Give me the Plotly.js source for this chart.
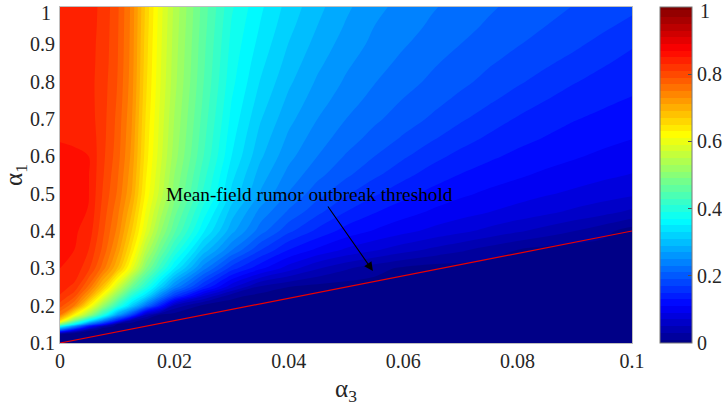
<!DOCTYPE html>
<html>
<head>
<meta charset="utf-8">
<script src="https://cdn.plot.ly/plotly-3.0.1.min.js"></script>
<style>html,body{margin:0;padding:0;background:#fff;}#chart{width:722px;height:406px;}</style>
</head>
<body>
<div id="chart"></div>
<script>
// alpha_3 grid (x)
var alpha3 = [0, 0.0025, 0.005, 0.0075, 0.01, 0.0125, 0.015, 0.0175, 0.02, 0.025,
              0.03, 0.035, 0.04, 0.045, 0.05, 0.055, 0.06, 0.065, 0.07, 0.075, 0.08, 0.085, 0.09, 0.095, 0.1];
// alpha_1 grid (y)
var alpha1 = [0.1, 0.12, 0.125, 0.13, 0.135, 0.14, 0.145, 0.15, 0.16, 0.175, 0.2, 0.225, 0.25, 0.3, 0.35,
              0.4, 0.45, 0.5, 0.55, 0.6, 0.65, 0.7, 0.75, 0.8, 0.85, 0.9, 0.95, 1.0];
// final rumor size, one row per alpha_1 value
var rumorSize = [
  [0,0,0,0,0,0,0,0,0,0, 0,0,0,0,0,0,0,0,0,0,0,0,0,0,0],
  [0,0,0,0,0,0,0,0,0,0, 0,0,0,0,0,0,0,0,0,0,0,0,0,0,0],
  [0.02,0,0,0,0,0,0,0,0,0, 0,0,0,0,0,0,0,0,0,0,0,0,0,0,0],
  [0.12,0.04,0,0,0,0,0,0,0,0, 0,0,0,0,0,0,0,0,0,0,0,0,0,0,0],
  [0.22,0.11,0.025,0,0,0,0,0,0,0, 0,0,0,0,0,0,0,0,0,0,0,0,0,0,0],
  [0.30,0.19,0.075,0.01,0,0,0,0,0,0, 0,0,0,0,0,0,0,0,0,0,0,0,0,0,0],
  [0.375,0.25,0.13,0.04,0,0,0,0,0,0, 0,0,0,0,0,0,0,0,0,0,0,0,0,0,0],
  [0.50,0.36,0.22,0.13,0.01,0,0,0,0,0, 0,0,0,0,0,0,0,0,0,0,0,0,0,0,0],
  [0.66,0.49,0.36,0.245,0.14,0.025,0,0,0,0, 0,0,0,0,0,0,0,0,0,0,0,0,0,0,0],
  [0.75,0.625,0.52,0.40,0.27,0.175,0.05,0.005,0,0, 0,0,0,0,0,0,0,0,0,0,0,0,0,0,0],
  [0.80,0.75,0.635,0.52,0.415,0.32,0.225,0.14,0.045,0.005, 0,0,0,0,0,0,0,0,0,0,0,0,0,0,0],
  [0.828,0.795,0.715,0.605,0.50,0.40,0.33,0.24,0.165,0.07, 0.015,0.003,0,0,0,0,0,0,0,0,0,0,0,0,0],
  [0.838,0.825,0.765,0.68,0.575,0.475,0.40,0.32,0.245,0.15, 0.075,0.025,0.01,0.003,0,0,0,0,0,0,0,0,0,0,0],
  [0.85,0.845,0.815,0.76,0.69,0.60,0.495,0.42,0.35,0.24, 0.16,0.115,0.08,0.052,0.033,0.018,0.006,0,0,0,0,0,0,0,0],
  [0.853,0.85,0.83,0.785,0.725,0.645,0.55,0.475,0.41,0.305, 0.232,0.172,0.13,0.106,0.087,0.073,0.059,0.046,0.034,0.022,0.01,0.002,0,0,0],
  [0.855,0.853,0.842,0.795,0.745,0.672,0.59,0.515,0.455,0.355, 0.277,0.22,0.175,0.145,0.122,0.108,0.096,0.085,0.075,0.064,0.053,0.042,0.030,0.017,0],
  [0.856,0.855,0.849,0.802,0.757,0.692,0.608,0.54,0.478,0.382, 0.30,0.243,0.206,0.175,0.149,0.131,0.118,0.107,0.098,0.09,0.082,0.074,0.065,0.056,0.045],
  [0.856,0.855,0.851,0.808,0.768,0.71,0.625,0.562,0.50,0.408, 0.325,0.268,0.228,0.198,0.173,0.153,0.137,0.124,0.114,0.106,0.099,0.092,0.086,0.08,0.074],
  [0.855,0.854,0.851,0.812,0.774,0.718,0.633,0.57,0.51,0.42, 0.337,0.281,0.243,0.216,0.194,0.174,0.156,0.141,0.129,0.12,0.113,0.106,0.1,0.094,0.089],
  [0.853,0.852,0.85,0.815,0.78,0.725,0.64,0.578,0.52,0.432, 0.35,0.294,0.256,0.23,0.208,0.19,0.173,0.157,0.144,0.134,0.125,0.118,0.112,0.106,0.1],
  [0.849,0.848,0.845,0.817,0.783,0.729,0.644,0.582,0.525,0.438, 0.357,0.303,0.266,0.24,0.22,0.203,0.188,0.173,0.159,0.147,0.137,0.129,0.122,0.116,0.111],
  [0.846,0.845,0.84,0.818,0.785,0.733,0.648,0.585,0.529,0.443, 0.364,0.312,0.276,0.25,0.23,0.214,0.2,0.187,0.173,0.16,0.148,0.139,0.131,0.125,0.12],
  [0.844,0.844,0.838,0.819,0.788,0.737,0.652,0.589,0.533,0.448, 0.37,0.321,0.285,0.259,0.239,0.223,0.209,0.197,0.185,0.173,0.161,0.15,0.141,0.134,0.128],
  [0.843,0.843,0.837,0.82,0.79,0.74,0.655,0.592,0.537,0.452, 0.376,0.329,0.294,0.267,0.247,0.231,0.218,0.206,0.195,0.184,0.173,0.162,0.151,0.143,0.137],
  [0.842,0.842,0.837,0.822,0.792,0.742,0.658,0.594,0.539,0.455, 0.38,0.336,0.302,0.275,0.254,0.238,0.225,0.213,0.202,0.192,0.183,0.173,0.163,0.152,0.144],
  [0.841,0.841,0.837,0.823,0.793,0.743,0.66,0.596,0.541,0.457, 0.384,0.343,0.309,0.283,0.261,0.245,0.232,0.221,0.21,0.2,0.191,0.183,0.174,0.163,0.152],
  [0.841,0.841,0.838,0.824,0.794,0.744,0.663,0.598,0.543,0.46, 0.388,0.349,0.316,0.29,0.268,0.25,0.238,0.227,0.217,0.207,0.198,0.19,0.182,0.174,0.164],
  [0.84,0.84,0.838,0.825,0.795,0.745,0.665,0.60,0.545,0.462, 0.393,0.354,0.322,0.296,0.274,0.256,0.243,0.232,0.223,0.213,0.204,0.196,0.189,0.182,0.175]
];
// mean-field threshold line end points
var thresholdA3 = [0, 0.1];
var thresholdA1 = [0.1, 0.4];
var xTicks = [0, 0.02, 0.04, 0.06, 0.08, 0.1];
var yTicks = [0.1, 0.2, 0.3, 0.4, 0.5, 0.6, 0.7, 0.8, 0.9, 1];
var cbTicks = [0, 0.2, 0.4, 0.6, 0.8, 1];
var annotationText = 'Mean-field rumor outbreak threshold';

var jet = [
  [0, 'rgb(0,0,135)'],
  [0.111, 'rgb(0,0,255)'],
  [0.365, 'rgb(0,255,255)'],
  [0.619, 'rgb(255,255,0)'],
  [0.873, 'rgb(255,0,0)'],
  [1, 'rgb(128,0,0)']
];
var FONT = 'Liberation Serif, Times New Roman, serif';
var TXT = '#262626';

// top labels ("1") are drawn as annotations so they are not clipped at the top edge
function labelText(v) { return v === 1 ? '' : String(v); }

var traces = [
  {
    type: 'contour',
    x: alpha3, y: alpha1, z: rumorSize,
    zmin: 0, zmax: 1, zauto: false,
    colorscale: jet,
    contours: {start: 0.01, end: 0.99, size: 0.02, coloring: 'fill', showlines: false},
    line: {width: 0, smoothing: 1},
    hoverinfo: 'skip',
    colorbar: {
      thickness: 32, thicknessmode: 'pixels',
      len: 1, lenmode: 'fraction',
      x: 1.049, xanchor: 'left', xpad: 0,
      y: 0.5, yanchor: 'middle', ypad: 0,
      outlinecolor: 'rgb(120,120,120)', outlinewidth: 1,
      tickmode: 'array', tickvals: cbTicks, ticktext: cbTicks.map(labelText),
      ticks: 'inside', ticklen: 4, tickcolor: 'rgb(80,80,80)',
      tickfont: {family: FONT, size: 20, color: TXT}
    }
  },
  {
    type: 'scatter', mode: 'lines',
    x: thresholdA3, y: thresholdA1,
    line: {color: 'rgb(235,0,0)', width: 1.2},
    hoverinfo: 'skip', showlegend: false
  }
];

var layout = {
  width: 722, height: 406,
  margin: {l: 60, r: 90, t: 7, b: 63, pad: 0, autoexpand: false},
  paper_bgcolor: '#fff', plot_bgcolor: '#fff',
  showlegend: false,
  font: {family: FONT, size: 20, color: TXT},
  xaxis: {
    range: [0, 0.1], tickmode: 'array', tickvals: xTicks, ticktext: xTicks.map(String),
    showgrid: false, zeroline: false, showline: true, mirror: true,
    linecolor: 'rgb(190,190,190)', linewidth: 1, ticks: '',
    tickfont: {family: FONT, size: 20, color: TXT},
    title: {text: 'α<sub>3</sub>', font: {family: FONT, size: 25, color: TXT}, standoff: 13}
  },
  yaxis: {
    range: [0.1, 1], tickmode: 'array', tickvals: yTicks, ticktext: yTicks.map(labelText),
    showgrid: false, zeroline: false, showline: true, mirror: true,
    linecolor: 'rgb(190,190,190)', linewidth: 1, ticks: '',
    tickfont: {family: FONT, size: 20, color: TXT},
    title: {text: 'α<sub>1</sub>', font: {family: FONT, size: 25, color: TXT}, standoff: 11}
  },
  annotations: [
    {
      x: 0.0437, y: 0.497, xref: 'x', yref: 'y',
      text: annotationText, showarrow: false,
      font: {family: FONT, size: 19.3, color: '#000'}
    },
    {
      x: 0.0547, y: 0.293, xref: 'x', yref: 'y',
      ax: -46, ay: -66, axref: 'pixel', ayref: 'pixel',
      text: '', showarrow: true,
      arrowhead: 2, arrowsize: 1.6, arrowwidth: 1.1, arrowcolor: '#000'
    },
    {
      x: -0.012, y: 0.982, xref: 'paper', yref: 'paper',
      xanchor: 'right', yanchor: 'middle', showarrow: false,
      text: String(yTicks[yTicks.length - 1]),
      font: {family: FONT, size: 20, color: TXT}
    },
    {
      x: 1.1154, y: 0.988, xref: 'paper', yref: 'paper',
      xanchor: 'left', yanchor: 'middle', showarrow: false,
      text: String(cbTicks[cbTicks.length - 1]),
      font: {family: FONT, size: 20, color: TXT}
    }
  ]
};

Plotly.newPlot('chart', traces, layout, {displayModeBar: false, staticPlot: true});
</script>
</body>
</html>
